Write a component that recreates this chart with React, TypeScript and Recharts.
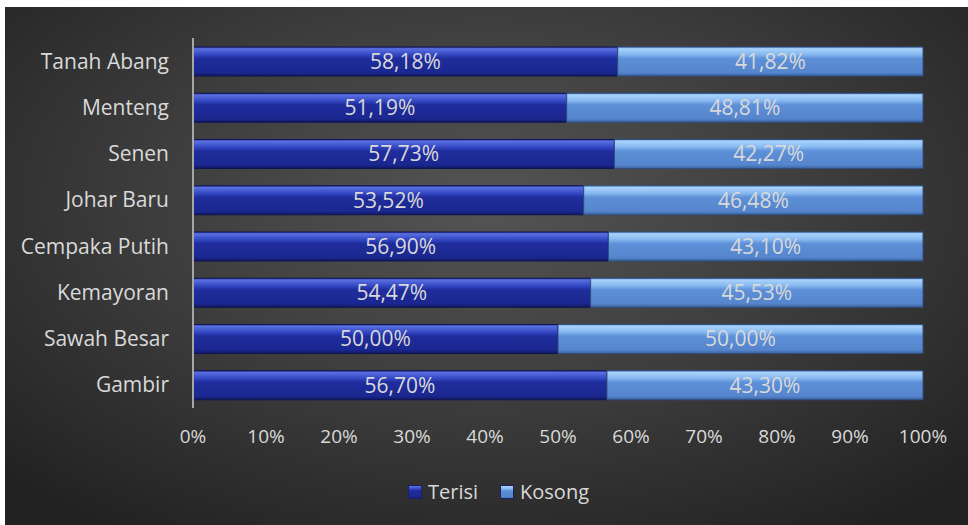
import { BarChart, Bar, XAxis, YAxis, LabelList } from 'recharts';

// Kecamatan (urutan dari atas ke bawah)
const kecamatan = [
  'Tanah Abang',
  'Menteng',
  'Senen',
  'Johar Baru',
  'Cempaka Putih',
  'Kemayoran',
  'Sawah Besar',
  'Gambir',
];
const terisi = [58.18, 51.19, 57.73, 53.52, 56.9, 54.47, 50.0, 56.7];
const kosong = [41.82, 48.81, 42.27, 46.48, 43.1, 45.53, 50.0, 43.3];
const xTicks = [0, 10, 20, 30, 40, 50, 60, 70, 80, 90, 100];

const data = kecamatan.map((name, i) => ({ name, terisi: terisi[i], kosong: kosong[i] }));

const FONT = '"Open Sans", sans-serif';
const TEXT = '#d9d9d9';

const fmt = (v: number) => `${v.toFixed(2).replace('.', ',')}%`;

function Legenda() {
  const items = [
    { label: 'Terisi', grad: 'url(#gTerisi)' },
    { label: 'Kosong', grad: 'url(#gKosong)' },
  ];
  return (
    <div
      style={{
        position: 'absolute',
        top: 471,
        left: 12,
        width: 963,
        display: 'flex',
        justifyContent: 'center',
        gap: 22,
        fontFamily: FONT,
        fontSize: 20,
        color: TEXT,
      }}
    >
      {items.map((it) => (
        <div key={it.label} style={{ display: 'flex', alignItems: 'center', gap: 6 }}>
          <svg width={14} height={14}>
            <rect x={0.5} y={0.5} width={13} height={13} fill={it.grad} stroke="#1a2060" />
          </svg>
          <span>{it.label}</span>
        </div>
      ))}
    </div>
  );
}

export default function App() {
  return (
    <div
      style={{
        position: 'absolute',
        left: 5,
        top: 7,
        width: 963,
        height: 518,
        background: 'radial-gradient(ellipse 70% 75% at 50% 38%, #545454 0%, #3d3d3d 50%, #222222 100%)',
      }}
    >
      <BarChart
        width={963}
        height={518}
        data={data}
        layout="vertical"
        margin={{ top: 31, right: 45, bottom: 87, left: 0 }}
        barSize={29}
      >
        <defs>
          <linearGradient id="gTerisi" x1="0" y1="0" x2="0" y2="1">
            <stop offset="0%" stopColor="#2a3aa8" />
            <stop offset="6%" stopColor="#5a70e0" />
            <stop offset="26%" stopColor="#3448c4" />
            <stop offset="40%" stopColor="#1f2d9c" />
            <stop offset="88%" stopColor="#1b2790" />
            <stop offset="100%" stopColor="#10185e" />
          </linearGradient>
          <linearGradient id="gKosong" x1="0" y1="0" x2="0" y2="1">
            <stop offset="0%" stopColor="#6a9ee0" />
            <stop offset="6%" stopColor="#a8d2fb" />
            <stop offset="26%" stopColor="#86b8f0" />
            <stop offset="40%" stopColor="#5d90d8" />
            <stop offset="88%" stopColor="#5585cc" />
            <stop offset="100%" stopColor="#3a62a0" />
          </linearGradient>
        </defs>
        <XAxis
          type="number"
          domain={[0, 100]}
          ticks={xTicks}
          tickFormatter={(v) => `${v}%`}
          axisLine={false}
          tickLine={false}
          height={30}
          tickSize={0}
          tickMargin={22}
          tick={{ fill: TEXT, fontSize: 19, fontFamily: FONT }}
          interval={0}
        />
        <YAxis
          type="category"
          dataKey="name"
          width={188}
          axisLine={{ stroke: '#a6a6a6', strokeWidth: 2 }}
          tickLine={false}
          tickSize={0}
          tickMargin={24}
          tick={{ fill: TEXT, fontSize: 21, fontFamily: FONT }}
          interval={0}
        />
        <Bar dataKey="terisi" stackId="a" fill="url(#gTerisi)" stroke="#0e1550" strokeWidth={1} isAnimationActive={false}>
          <LabelList dataKey="terisi" position="center" formatter={fmt} fill={TEXT} fontSize={21} fontFamily={FONT} />
        </Bar>
        <Bar dataKey="kosong" stackId="a" fill="url(#gKosong)" stroke="#2f4f80" strokeWidth={1} isAnimationActive={false}>
          <LabelList dataKey="kosong" position="center" formatter={fmt} fill={TEXT} fontSize={21} fontFamily={FONT} />
        </Bar>
      </BarChart>
      <Legenda />
    </div>
  );
}
